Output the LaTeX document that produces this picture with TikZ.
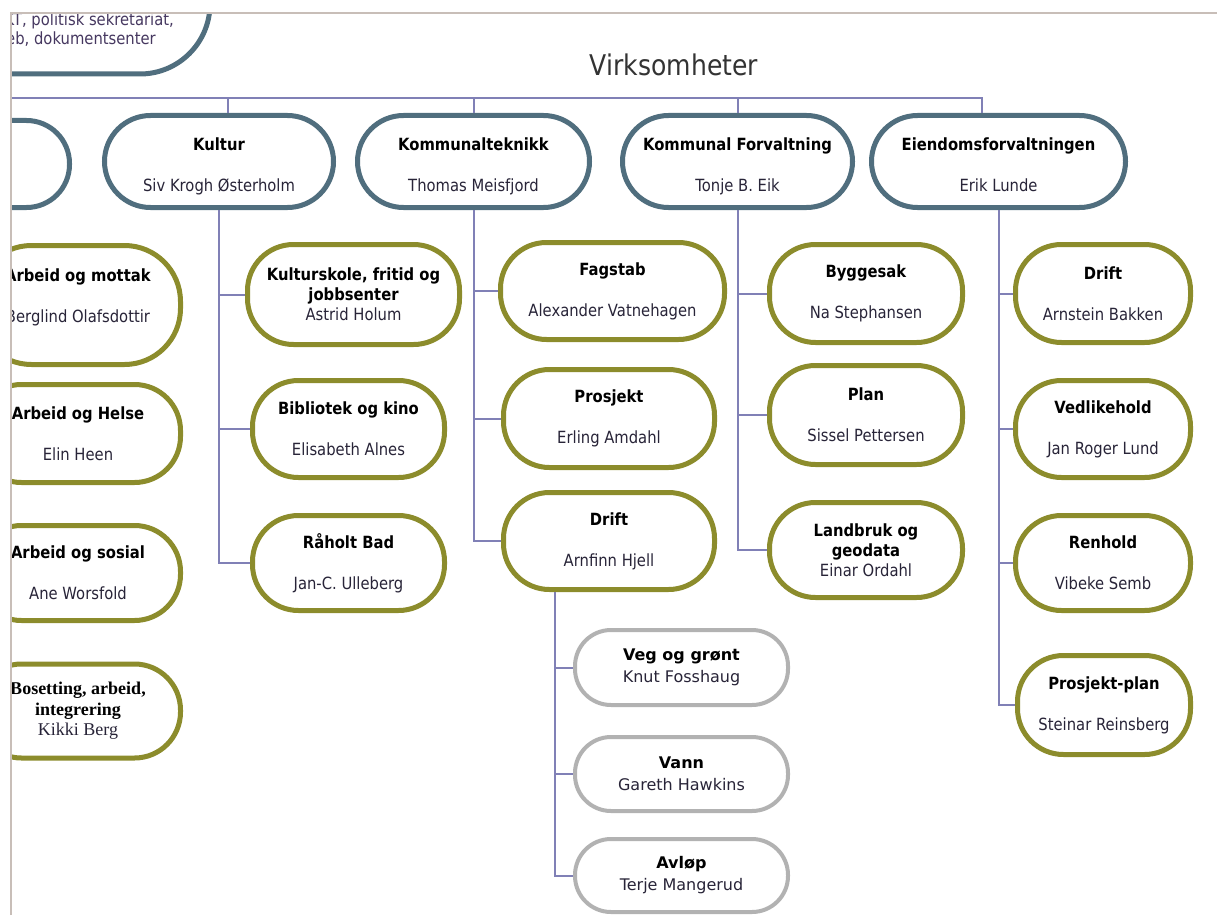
\documentclass[tikz,border=0pt]{standalone}
\usepackage{fontspec}
\setmainfont{DejaVu Sans}[FakeStretch=0.88]
\newfontfamily\widefont{DejaVu Sans}
\newfontfamily\seriffont{Liberation Serif}
\definecolor{slate}{RGB}{80,110,126}
\definecolor{olive}{RGB}{140,140,44}
\definecolor{lgray}{RGB}{178,178,178}
\definecolor{conncol}{RGB}{128,128,182}
\definecolor{framecol}{RGB}{200,190,184}
\definecolor{namecol}{RGB}{40,36,56}
\definecolor{toptext}{RGB}{70,56,96}
\tikzset{
  box/.style={rectangle, fill=white, align=center, inner sep=0pt, text=black,
    font=\fontsize{16.8}{20}\selectfont},
  lone/.style={box, draw=slate, line width=5pt, rounded corners=46pt},
  ltwo/.style={box, draw=olive, line width=5pt, rounded corners=46pt},
  lthree/.style={box, draw=lgray, line width=4pt, rounded corners=36pt,
    font=\widefont\fontsize{16}{22}\selectfont},
  conn/.style={draw=conncol, line width=2pt},
}
\newcommand{\nme}[1]{\textcolor{namecol}{#1}}
\begin{document}
\begin{tikzpicture}[x=1pt,y=-1pt]
\useasboundingbox (0,0) rectangle (1217,915);
\begin{scope}
\clip (11,13) rectangle (1217,915);
% top-left partial node
\node[box, draw=slate, line width=5pt, rounded corners=70pt,
      minimum width=360pt, minimum height=142pt] (topnode) at (30,3) {};
\node[anchor=east, inner sep=0pt, text=toptext, font=\fontsize{16.8}{20}\selectfont] (topt1) at (174,21) {IKT, politisk sekretariat,};
\node[anchor=east, inner sep=0pt, text=toptext, font=\fontsize{16.8}{20}\selectfont] (topt2) at (156,39) {web, dokumentsenter};

% title
\node[anchor=base, inner sep=0pt, text=black!80, font=\fontsize{28.5}{30}\selectfont] (virk) at (674,76) {Virksomheter};

% level 1
\node[lone, minimum width=220pt, minimum height=87pt, rounded corners=43pt] (leftl1) at (-40.5,164) {};
\node[lone, minimum width=229pt, minimum height=92pt] (kultur) at (219,161.5)
  {\textbf{Kultur}\\[21pt]\nme{Siv Krogh Østerholm}\\[-26pt]\mbox{}};
\node[lone, minimum width=232pt, minimum height=92pt] (kteknikk) at (473.5,161.5)
  {\textbf{Kommunalteknikk}\\[21pt]\nme{Thomas Meisfjord}\\[-26pt]\mbox{}};
\node[lone, minimum width=230pt, minimum height=92pt] (kforv) at (737.5,161.5)
  {\textbf{Kommunal Forvaltning}\\[21pt]\nme{Tonje B. Eik}\\[-26pt]\mbox{}};
\node[lone, minimum width=254pt, minimum height=92pt] (eiend) at (998.5,161.5)
  {\textbf{Eiendomsforvaltningen}\\[21pt]\nme{Erik Lunde}\\[-26pt]\mbox{}};

% left column (cut off)
\node[ltwo, minimum width=205pt, minimum height=119pt, rounded corners=56pt] (mottak) at (78,305)
  {\textbf{Arbeid og mottak}\\[21pt]\nme{Berglind Olafsdottir}\\[-2pt]\mbox{}};
\node[ltwo, minimum width=205pt, minimum height=98pt] (helse) at (78,433.5)
  {\textbf{Arbeid og Helse}\\[21pt]\nme{Elin Heen}};
\node[ltwo, minimum width=205pt, minimum height=95pt] (sosial) at (78,573)
  {\textbf{Arbeid og sosial}\\[21pt]\nme{Ane Worsfold}};
\node[ltwo, minimum width=205pt, minimum height=94pt, font=\seriffont\fontsize{18}{20.5}\selectfont] (bosetting) at (78,711)
  {\textbf{Bosetting, arbeid,}\\\textbf{integrering}\\\nme{Kikki Berg}};

% Kultur children
\node[ltwo, minimum width=212pt, minimum height=100pt] (kulturskole) at (353.5,294.5)
  {\textbf{Kulturskole, fritid og}\\\textbf{jobbsenter}\\\nme{Astrid Holum}};
\node[ltwo, minimum width=192pt, minimum height=97pt] (bibliotek) at (348.5,429)
  {\textbf{Bibliotek og kino}\\[21pt]\nme{Elisabeth Alnes}};
\node[ltwo, minimum width=192pt, minimum height=95pt] (raholt) at (348.5,563)
  {\textbf{Råholt Bad}\\[21pt]\nme{Jan-C. Ulleberg}};

% Kommunalteknikk children
\node[ltwo, minimum width=224pt, minimum height=97pt] (fagstab) at (612.5,291)
  {\textbf{Fagstab}\\[21pt]\nme{Alexander Vatnehagen}};
\node[ltwo, minimum width=211pt, minimum height=98pt] (prosjekt) at (609,418.5)
  {\textbf{Prosjekt}\\[21pt]\nme{Erling Amdahl}};
\node[ltwo, minimum width=211pt, minimum height=97pt] (driftk) at (609,541)
  {\textbf{Drift}\\[21pt]\nme{Arnfinn Hjell}};

% Drift children
\node[lthree, minimum width=213pt, minimum height=75pt] (veg) at (681.5,667.5)
  {\textbf{Veg og grønt}\\\nme{Knut Fosshaug}};
\node[lthree, minimum width=213pt, minimum height=74pt] (vann) at (681.5,774)
  {\textbf{Vann}\\\nme{Gareth Hawkins}};
\node[lthree, minimum width=213pt, minimum height=73pt] (avlop) at (681.5,875.5)
  {\textbf{Avløp}\\\nme{Terje Mangerud}};

% Kommunal Forvaltning children
\node[ltwo, minimum width=193pt, minimum height=98pt] (byggesak) at (866,293.5)
  {\textbf{Byggesak}\\[21pt]\nme{Na Stephansen}};
\node[ltwo, minimum width=193pt, minimum height=99pt] (plan) at (866,415)
  {\textbf{Plan}\\[21pt]\nme{Sissel Pettersen}};
\node[ltwo, minimum width=193pt, minimum height=95pt] (landbruk) at (866,550)
  {\textbf{Landbruk og}\\\textbf{geodata}\\\nme{Einar Ordahl}};

% Eiendomsforvaltningen children
\node[ltwo, minimum width=175pt, minimum height=98pt] (drifte) at (1103,293.5)
  {\textbf{Drift}\\[21pt]\nme{Arnstein Bakken}};
\node[ltwo, minimum width=175pt, minimum height=97pt] (vedlikehold) at (1103,429)
  {\textbf{Vedlikehold}\\[21pt]\nme{Jan Roger Lund}};
\node[ltwo, minimum width=175pt, minimum height=95pt] (renhold) at (1103,563)
  {\textbf{Renhold}\\[21pt]\nme{Vibeke Semb}};
\node[ltwo, minimum width=173pt, minimum height=99pt] (prosjektplan) at (1104,705)
  {\textbf{Prosjekt-plan}\\[21pt]\nme{Steinar Reinsberg}};

% connectors
\coordinate (busL) at (-5,98);
\draw[conn] ([xshift=9pt]kultur.north) |- (busL);
\draw[conn] (kteknikk.north) |- (busL);
\draw[conn] (kforv.north) |- (busL);
\draw[conn] ([xshift=-16.5pt]eiend.north) |- (busL);

\draw[conn] (kultur.south) |- (kulturskole.west);
\draw[conn] (kultur.south) |- (bibliotek.west);
\draw[conn] (kultur.south) |- (raholt.west);

\draw[conn] (kteknikk.south) |- (fagstab.west);
\draw[conn] (kteknikk.south) |- (prosjekt.west);
\draw[conn] (kteknikk.south) |- (driftk.west);

\draw[conn] ([xshift=-54pt]driftk.south) |- (veg.west);
\draw[conn] ([xshift=-54pt]driftk.south) |- (vann.west);
\draw[conn] ([xshift=-54pt]driftk.south) |- (avlop.west);

\draw[conn] (kforv.south) |- (byggesak.west);
\draw[conn] (kforv.south) |- (plan.west);
\draw[conn] (kforv.south) |- (landbruk.west);

\draw[conn] (eiend.south) |- (drifte.west);
\draw[conn] (eiend.south) |- (vedlikehold.west);
\draw[conn] (eiend.south) |- (renhold.west);
\draw[conn] (eiend.south) |- (prosjektplan.west);
\end{scope}
% frame
\draw[framecol, line width=1.5pt] (11,915) -- (11,13) -- (1217,13);
\end{tikzpicture}
\end{document}
